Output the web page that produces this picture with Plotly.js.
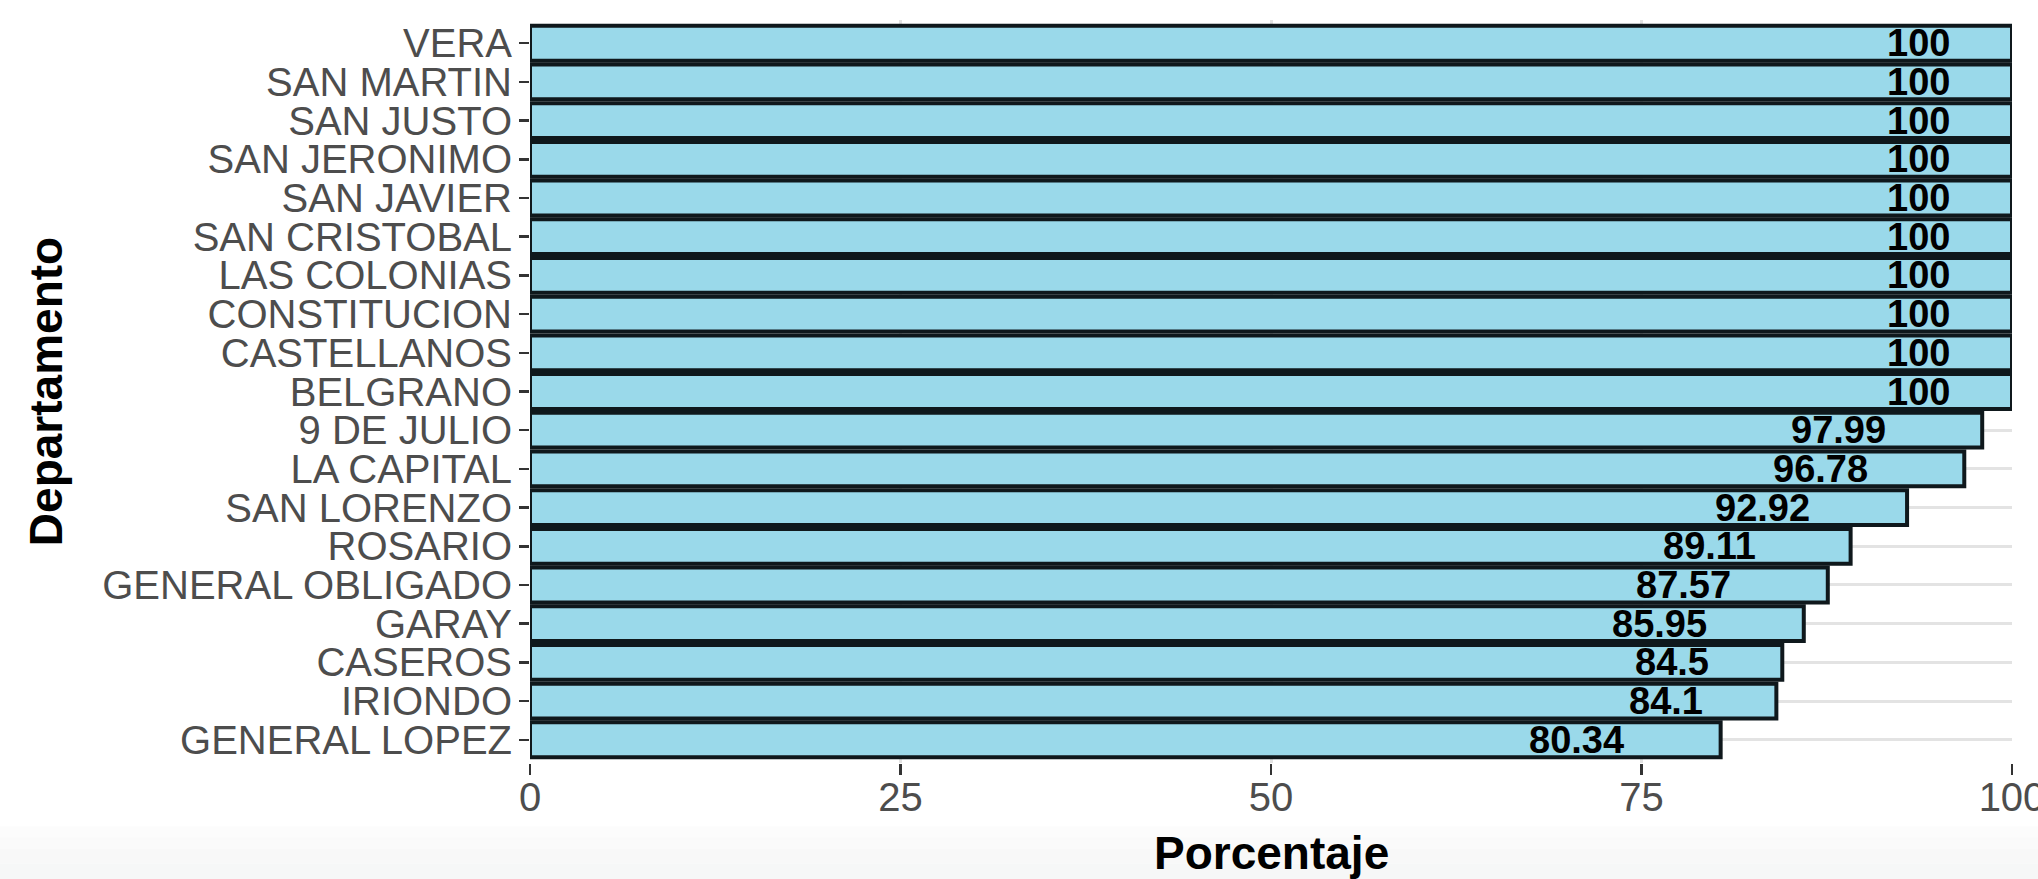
<!DOCTYPE html>
<html>
<head>
<meta charset="utf-8">
<script src="https://cdn.plot.ly/plotly-3.0.1.min.js"></script>
<style>
  html, body { margin: 0; padding: 0; background: #ffffff; overflow: hidden; }
  #chart { width: 2038px; height: 879px; }
</style>
</head>
<body>
<div id="chart"></div>
<script>
// Data (top to bottom as shown)
const departamentos = [
  "VERA", "SAN MARTIN", "SAN JUSTO", "SAN JERONIMO", "SAN JAVIER",
  "SAN CRISTOBAL", "LAS COLONIAS", "CONSTITUCION", "CASTELLANOS", "BELGRANO",
  "9 DE JULIO", "LA CAPITAL", "SAN LORENZO", "ROSARIO", "GENERAL OBLIGADO",
  "GARAY", "CASEROS", "IRIONDO", "GENERAL LOPEZ"
];
const porcentajes = [
  100, 100, 100, 100, 100,
  100, 100, 100, 100, 100,
  97.99, 96.78, 92.92, 89.11, 87.57,
  85.95, 84.5, 84.1, 80.34
];
const xTicks = [0, 25, 50, 75, 100];
const xTitle = "Porcentaje";
const yTitle = "Departamento";

const FONT = "'Liberation Sans', Arial, Helvetica, sans-serif";
const LABEL_SIZE = 38;

// measure text width to mimic ggplot hjust (relative to text width)
const cv = document.createElement('canvas');
const ctx = cv.getContext('2d');
ctx.font = "bold " + LABEL_SIZE + "px 'Liberation Sans', Arial, sans-serif";
function textW(s) { return ctx.measureText(s).width; }

const annotations = departamentos.map((d, i) => {
  const txt = String(porcentajes[i]);
  const w = textW(txt);
  return {
    x: porcentajes[i], y: d, xref: 'x', yref: 'y',
    text: txt, showarrow: false,
    xanchor: 'right', yanchor: 'middle',
    xshift: 10 - 1.1 * w,
    font: { family: FONT, size: LABEL_SIZE, color: '#000000', weight: 'bold' }
  };
});

// x axis title (placed as annotation so it can sit at the very bottom edge)
annotations.push({
  x: 0.5, y: 0, xref: 'paper', yref: 'paper',
  text: xTitle, showarrow: false,
  xanchor: 'center', yanchor: 'top', yshift: -62,
  font: { family: FONT, size: 46, color: '#000000', weight: 'bold' }
});

// subtle bottom shading (screenshot look)
const shapes = [];
const bands = [
  { y0: -0.085, y1: -0.100, c: '#fcfcfc' },
  { y0: -0.100, y1: -0.115, c: '#fafafa' },
  { y0: -0.115, y1: -0.135, c: '#f8f8f8' },
  { y0: -0.135, y1: -0.200, c: '#f6f7f7' }
];
bands.forEach(b => shapes.push({
  type: 'rect', xref: 'paper', yref: 'paper', x0: -0.4, x1: 1.05, y0: b.y0, y1: b.y1,
  fillcolor: b.c, line: { width: 0 }, layer: 'below'
}));

const trace = {
  type: 'bar',
  orientation: 'h',
  x: porcentajes,
  y: departamentos,
  width: 0.9,
  marker: { color: '#9AD9EA', line: { color: '#0f181c', width: 4 } },
  hoverinfo: 'x+y'
};

const layout = {
  width: 2038, height: 879,
  margin: { l: 530, r: 26, t: 20, b: 116, pad: 0 },
  paper_bgcolor: '#ffffff',
  plot_bgcolor: '#ffffff',
  showlegend: false,
  font: { family: FONT, color: '#4D4D4D' },
  xaxis: {
    range: [0, 100],
    tickmode: 'array',
    tickvals: xTicks,
    ticktext: xTicks.map(String),
    ticklabeloverflow: 'allow',
    showgrid: true, gridcolor: '#E3E3E3', gridwidth: 3,
    zeroline: false, showline: false,
    ticks: 'outside', ticklen: 11, tickwidth: 2.5, tickcolor: '#333333',
    ticklabelstandoff: -12,
    tickfont: { family: FONT, size: 40, color: '#4D4D4D' },
    automargin: false, fixedrange: true
  },
  yaxis: {
    type: 'category',
    categoryorder: 'array',
    categoryarray: departamentos,
    tickmode: 'array',
    tickvals: departamentos,
    ticktext: departamentos,
    range: [departamentos.length - 0.4, -0.6],
    showgrid: true, gridcolor: '#E3E3E3', gridwidth: 3,
    zeroline: false, showline: false,
    ticks: 'outside', ticklen: 10, tickwidth: 2.5, tickcolor: '#333333',
    ticklabelstandoff: -1,
    tickfont: { family: FONT, size: 40, color: '#4D4D4D' },
    title: { text: yTitle, font: { family: FONT, size: 46, color: '#000000', weight: 'bold' }, standoff: 25 },
    automargin: false, fixedrange: true
  },
  annotations: annotations,
  shapes: shapes
};

Plotly.newPlot('chart', [trace], layout, { displayModeBar: false, staticPlot: true });
</script>
</body>
</html>
